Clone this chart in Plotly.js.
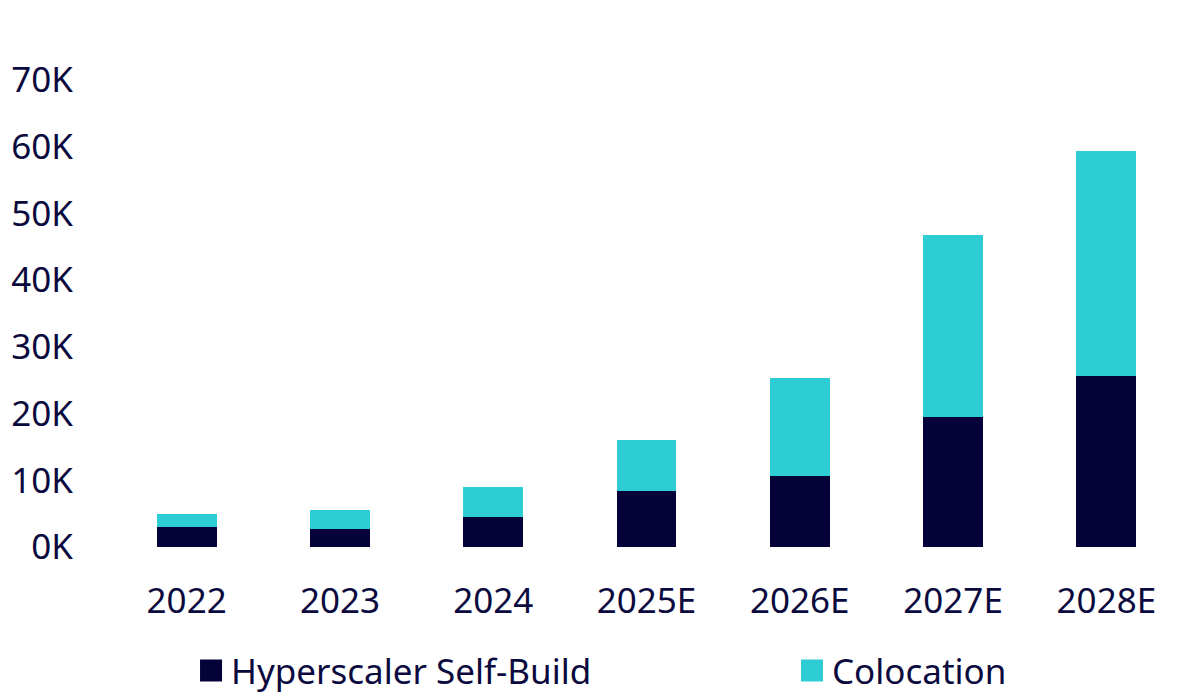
<!DOCTYPE html>
<html>
<head>
<meta charset="utf-8">
<script src="https://cdn.plot.ly/plotly-3.0.1.min.js"></script>
<style>
  html, body { margin: 0; padding: 0; background: #fff; }
  #chart { width: 1200px; height: 695px; }
</style>
</head>
<body>
<div id="chart"></div>
<script>
const years = ['2022', '2023', '2024', '2025E', '2026E', '2027E', '2028E'];
const selfBuild = [2950, 2740, 4490, 8380, 10630, 19420, 25650];
const colocation = [2040, 2800, 4450, 7640, 14670, 27290, 33640];

const navy = '#05023a';
const teal = '#2ecdd4';
const textColor = '#0b0a3e';

const chart = document.getElementById('chart');

const data = [{
    x: years,
    y: selfBuild,
    name: 'Hyperscaler Self-Build',
    type: 'bar',
    marker: { color: navy },
    legend: 'legend',
    hoverinfo: 'x+y+name'
}, {
    x: years,
    y: colocation,
    name: 'Colocation',
    type: 'bar',
    marker: { color: teal },
    legend: 'legend2',
    hoverinfo: 'x+y+name'
}];

// one legend per series so the two entries can sit far apart on one row
const legendBase = {
    orientation: 'h',
    xref: 'container',
    yref: 'container',
    xanchor: 'left',
    y: 0.035,
    yanchor: 'middle',
    font: { size: 35, color: textColor }
};

const layout = {
    width: 1200,
    height: 695,
    barmode: 'stack',
    bargap: 0.61,
    font: {
        family: '"Noto Sans", "Open Sans", Arial',
        size: 35,
        color: textColor
    },
    margin: { l: 110, r: 17, t: 80, b: 148, pad: 0 },
    paper_bgcolor: '#ffffff',
    plot_bgcolor: '#ffffff',
    xaxis: {
        type: 'category',
        showgrid: false,
        showline: false,
        zeroline: false,
        ticks: '',
        ticklabelstandoff: 30,
        tickfont: { size: 35, color: textColor }
    },
    yaxis: {
        range: [0, 70000],
        tickvals: [0, 10000, 20000, 30000, 40000, 50000, 60000, 70000],
        ticktext: ['0K', '10K', '20K', '30K', '40K', '50K', '60K', '70K'],
        showgrid: false,
        showline: false,
        zeroline: false,
        ticks: '',
        ticklabelstandoff: 36,
        tickfont: { size: 35, color: textColor }
    },
    showlegend: true,
    legend: Object.assign({}, legendBase, { x: 0.1592 }),
    legend2: Object.assign({}, legendBase, { x: 0.66 })
};

const config = { responsive: false, displaylogo: false, displayModeBar: false };

function bigLegendSquares() {
    chart.querySelectorAll('.legendpoints path').forEach(function (p) {
        p.setAttribute('d', 'M11,11H-11V-11H11Z');
    });
}

Plotly.newPlot(chart, data, layout, config).then(function () {
    bigLegendSquares();
    chart.on('plotly_afterplot', bigLegendSquares);
});
</script>
</body>
</html>
